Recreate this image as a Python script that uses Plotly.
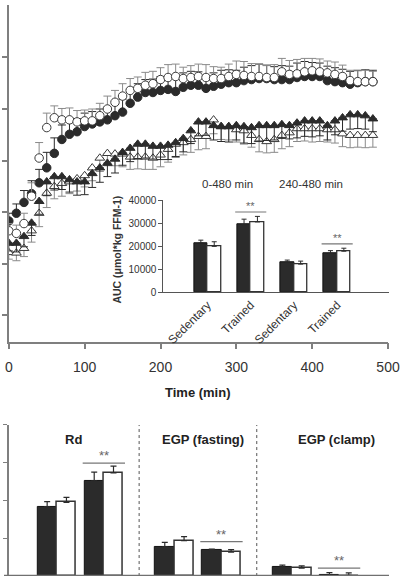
import plotly.graph_objects as go

W, H = 401, 584
FONT = "Liberation Sans, Arial, sans-serif"

# ---------------- main time course ----------------
time_min = [0, 10, 20, 30, 40, 50, 60, 70, 80, 90, 100, 110, 120, 130, 140, 150, 160,
            170, 180, 190, 200, 210, 220, 230, 240, 250, 260, 270, 280, 290, 300, 310,
            320, 330, 340, 350, 360, 370, 380, 390, 400, 410, 420, 430, 440, 450, 460,
            470, 480]

trained_filled = [28.3, 29.8, 31.9, 33.6, 35.7, 38.6, 41.4, 44.1, 45.1, 45.6, 46.6, 47.1,
                  47.5, 47.9, 48.7, 49.4, 51.1, 52.3, 53.2, 53.2, 53.6, 53.8, 53.4, 54.2,
                  54.6, 54.6, 54.0, 54.4, 54.8, 55.1, 55.1, 55.5, 55.7, 55.9, 55.9, 55.7,
                  55.7, 55.7, 56.1, 56.3, 56.3, 56.3, 55.5, 55.3, 55.1, 54.8, 55.1, 55.3,
                  55.3]
trained_filled_err = [1.5, 1.8, 2.3, 2.5, 2.6, 3.0, 3.0, 2.8, 2.6, 2.5, 2.6, 2.4, 2.5, 2.4,
                      2.6, 2.5, 2.7, 2.6, 2.5, 2.6, 2.7, 2.5, 2.6, 2.8, 2.7, 2.6, 2.5, 2.6,
                      2.7, 2.5, 2.4, 2.6, 2.7, 2.8, 2.6, 2.5, 2.7, 2.6, 2.8, 2.9, 2.7, 2.6,
                      2.8, 2.7, 2.6, 2.5, 2.4, 2.3, 2.2]

trained_open = [26.4, 25.9, 27.8, 33.1, 40.5, 46.4, 48.3, 47.9, 47.9, 47.5, 47.7, 47.7,
                48.7, 50.0, 51.3, 52.5, 53.6, 54.0, 54.6, 54.9, 55.7, 56.1, 56.3, 55.9,
                56.1, 56.3, 56.1, 55.9, 55.9, 56.3, 56.7, 56.5, 56.3, 56.3, 56.1, 56.1,
                57.2, 56.7, 56.8, 57.2, 57.4, 57.2, 57.0, 56.7, 56.3, 55.5, 55.3, 55.3,
                55.3]
trained_open_err = [1.4, 1.6, 2.0, 2.6, 3.0, 2.8, 2.3, 2.2, 2.3, 2.2, 2.1, 2.3, 2.4, 2.5,
                    2.3, 2.4, 2.3, 2.2, 2.5, 2.4, 2.3, 2.5, 2.4, 2.2, 2.3, 2.4, 2.5, 2.3,
                    2.2, 2.4, 2.6, 2.7, 2.5, 2.4, 2.3, 2.5, 2.6, 2.7, 2.8, 2.6, 2.4, 2.5,
                    2.3, 2.4, 2.2, 2.0, 2.1, 2.2, 2.0]

sed_filled = [24.0, 24.0, 25.3, 27.9, 32.1, 35.9, 36.9, 36.9, 36.3, 35.9, 35.9, 37.5, 38.6,
              39.5, 40.3, 41.6, 42.4, 43.2, 43.2, 42.8, 42.8, 43.0, 43.5, 44.3, 45.8, 47.5,
              47.5, 46.8, 46.6, 46.6, 46.8, 46.6, 46.4, 46.8, 46.8, 46.8, 47.0, 46.8, 47.3,
              47.7, 47.7, 47.7, 46.8, 47.7, 48.3, 48.9, 48.9, 48.7, 48.1]
sed_filled_err = [1.5, 1.7, 2.0, 2.4, 2.5, 2.7, 2.6, 2.5, 2.4, 2.6, 2.5, 2.7, 2.8, 2.6, 2.7,
                  2.5, 2.6, 2.8, 2.7, 2.5, 2.6, 2.8, 2.7, 2.6, 2.5, 2.7, 2.6, 2.8, 2.9, 3.0,
                  2.8, 3.2, 3.1, 3.0, 2.9, 2.8, 2.7, 2.6, 2.9, 3.0, 3.1, 2.9, 2.8, 2.7, 2.6,
                  2.8, 2.7, 2.6, 2.5]

sed_open = [22.2, 22.1, 23.0, 26.4, 29.8, 33.7, 35.0, 35.6, 35.9, 36.5, 37.1, 38.6, 40.5,
            41.4, 41.3, 41.3, 40.7, 40.7, 40.7, 40.5, 41.1, 42.2, 43.2, 43.5, 44.1, 44.7,
            44.7, 47.9, 46.6, 46.6, 46.0, 45.8, 44.9, 44.1, 43.7, 44.1, 44.9, 45.4, 46.2,
            46.2, 46.2, 46.2, 46.0, 46.0, 45.2, 44.9, 44.9, 44.9, 44.9]
sed_open_err = [1.3, 1.5, 1.6, 2.2, 2.6, 2.8, 2.4, 2.5, 2.3, 2.4, 2.2, 2.5, 2.6, 2.4, 2.3,
                2.5, 2.4, 2.3, 2.4, 2.2, 2.3, 2.5, 2.6, 2.4, 2.5, 2.6, 2.4, 2.7, 2.5, 2.6,
                2.4, 2.6, 2.3, 2.4, 2.2, 2.5, 2.6, 2.7, 2.5, 2.4, 2.6, 2.5, 2.4, 2.6, 2.5,
                2.4, 2.3, 2.4, 2.3]

x_ticks_main = [0, 100, 200, 300, 400, 500]

# ---------------- inset AUC ----------------
auc_groups = ["Sedentary", "Trained", "Sedentary", "Trained"]
auc_periods = ["0-480 min", "240-480 min"]
auc_dark = [21500, 29400, 13200, 17000]
auc_dark_err = [1200, 2400, 850, 1150]
auc_white = [20000, 30600, 12300, 17900]
auc_white_err = [2000, 2400, 1300, 1300]
auc_sig = [False, True, False, True]
auc_ticks = [0, 10000, 20000, 30000, 40000]

# ---------------- bottom Rd / EGP ----------------
panels = ["Rd", "EGP (fasting)", "EGP (clamp)"]
conditions = ["Sedentary", "Trained"]
flux_dark = [18.4, 25.2, 7.7, 6.8, 2.4, 0.2]
flux_dark_err = [1.3, 2.3, 1.2, 0.3, 0.5, 0.7]
flux_white = [19.5, 27.3, 9.35, 6.3, 2.1, 0.15]
flux_white_err = [1.3, 1.8, 1.1, 0.7, 0.6, 0.7]
flux_sig_level = [29.9, 9.1, 2.1]

DARK = "#2b2b2b"
GRAY = "#8a8a8a"
AX = "#7f7f7f"

fig = go.Figure()


def px_x(p):
    return p / W


def px_y(p):
    return 1 - p / H


zeros = [0 for _ in time_min]

# main series: open triangles, filled triangles, filled circles, open circles
fig.add_trace(go.Scatter(
    x=time_min, y=sed_open, mode="markers", xaxis="x", yaxis="y",
    marker=dict(symbol="triangle-up", size=8.5, color="white", line=dict(color="#3a3a3a", width=1)),
    error_y=dict(type="data", symmetric=False, array=zeros, arrayminus=sed_open_err,
                 color=GRAY, thickness=1, width=4)))
fig.add_trace(go.Scatter(
    x=time_min, y=sed_filled, mode="markers", xaxis="x", yaxis="y",
    marker=dict(symbol="triangle-up", size=8.5, color=DARK, line=dict(color=DARK, width=1)),
    error_y=dict(type="data", symmetric=False, array=zeros, arrayminus=sed_filled_err,
                 color=DARK, thickness=1, width=4)))
fig.add_trace(go.Scatter(
    x=time_min, y=trained_filled, mode="markers", xaxis="x", yaxis="y",
    marker=dict(symbol="circle", size=8.5, color=DARK, line=dict(color=DARK, width=1)),
    error_y=dict(type="data", symmetric=False, array=trained_filled_err, arrayminus=zeros,
                 color=DARK, thickness=1, width=4)))
fig.add_trace(go.Scatter(
    x=time_min, y=trained_open, mode="markers", xaxis="x", yaxis="y",
    marker=dict(symbol="circle", size=8.5, color="white", line=dict(color="#3a3a3a", width=1)),
    error_y=dict(type="data", symmetric=False, array=trained_open_err, arrayminus=zeros,
                 color=GRAY, thickness=1, width=4)))

# inset bars
auc_pos = list(range(len(auc_groups)))
BW_IN = 0.31
fig.add_trace(go.Bar(
    x=auc_pos, y=auc_dark, width=BW_IN, offset=-BW_IN, xaxis="x2", yaxis="y2",
    marker=dict(color=DARK, line=dict(color="#111", width=1)),
    error_y=dict(type="data", symmetric=False, array=auc_dark_err,
                 arrayminus=[0 for _ in auc_dark], color=DARK, thickness=1, width=2.5)))
fig.add_trace(go.Bar(
    x=auc_pos, y=auc_white, width=BW_IN, offset=0, xaxis="x2", yaxis="y2",
    marker=dict(color="white", line=dict(color="#333", width=1.3)),
    error_y=dict(type="data", symmetric=False, array=auc_white_err,
                 arrayminus=[0 for _ in auc_white], color=DARK, thickness=1, width=2.5)))

# bottom bars
flux_pos = []
for pi in range(len(panels)):
    for ci in range(len(conditions)):
        flux_pos.append(pi * 2.5 + ci + 1)
BW_B = 0.41
fig.add_trace(go.Bar(
    x=flux_pos, y=flux_dark, width=BW_B, offset=-BW_B, xaxis="x3", yaxis="y3",
    marker=dict(color=DARK, line=dict(color="#111", width=1)),
    error_y=dict(type="data", symmetric=False, array=flux_dark_err,
                 arrayminus=[0 for _ in flux_dark], color=DARK, thickness=1.2, width=3)))
fig.add_trace(go.Bar(
    x=flux_pos, y=flux_white, width=BW_B, offset=0, xaxis="x3", yaxis="y3",
    marker=dict(color="white", line=dict(color="#333", width=1.5)),
    error_y=dict(type="data", symmetric=False, array=flux_white_err,
                 arrayminus=[0 for _ in flux_white], color=DARK, thickness=1.2, width=3)))

shapes = []
annotations = []

# inset significance
for i, s in enumerate(auc_sig):
    if s:
        top = max(auc_dark[i] + auc_dark_err[i], auc_white[i] + auc_white_err[i]) + 1900
        shapes.append(dict(type="line", xref="x2", yref="y2", x0=i - 0.36, x1=i + 0.36,
                           y0=top, y1=top, line=dict(color="#777", width=1.2)))
        annotations.append(dict(x=i, y=top, xref="x2", yref="y2", text="**", showarrow=False,
                                xanchor="center", yanchor="bottom", yshift=-2,
                                font=dict(family=FONT, size=11, color="#666")))

# inset period labels
period_px = [233, 320]
for j, lab in enumerate(auc_periods):
    annotations.append(dict(x=px_x(period_px[j]), y=px_y(182), xref="paper", yref="paper",
                            text=lab, showarrow=False, xanchor="center", yanchor="middle",
                            font=dict(family=FONT, size=11.5, color="#333")))

annotations.append(dict(x=px_x(118), y=px_y(249), xref="paper", yref="paper",
                        text="<b>AUC (\u03bcmol*kg FFM-1)</b>", textangle=-90, showarrow=False,
                        xanchor="center", yanchor="middle",
                        font=dict(family=FONT, size=10.5, color="#333")))

annotations.append(dict(x=px_x(202), y=px_y(395), xref="paper", yref="paper",
                        text="<b>Time (min)</b>", showarrow=False, xanchor="center",
                        yanchor="middle", font=dict(family=FONT, size=13, color="#222")))

# bottom panel titles and separators
title_px = [72, 207, 346]
for pi, name in enumerate(panels):
    annotations.append(dict(x=px_x(title_px[pi]), y=px_y(443), xref="paper", yref="paper",
                            text="<b>%s</b>" % name, showarrow=False, xanchor="center",
                            yanchor="middle", font=dict(family=FONT, size=13, color="#222")))
    c = pi * 2.5 + 2
    lvl = flux_sig_level[pi]
    shapes.append(dict(type="line", xref="x3", yref="y3", x0=c - 0.45, x1=c + 0.45,
                       y0=lvl, y1=lvl, line=dict(color="#777", width=1.2)))
    annotations.append(dict(x=c, y=lvl, xref="x3", yref="y3", text="**", showarrow=False,
                            xanchor="center", yanchor="bottom", yshift=-2,
                            font=dict(family=FONT, size=13, color="#666")))
for pi in range(len(panels) - 1):
    xs = pi * 2.5 + 2.75
    shapes.append(dict(type="line", xref="x3", yref="y3", x0=xs, x1=xs, y0=0, y1=40,
                       line=dict(color="#555", width=1, dash="dot")))

# bottom thick baseline
shapes.append(dict(type="line", xref="paper", yref="y3", x0=0, x1=1, y0=0, y1=0,
                   line=dict(color="#707070", width=2.5)))

fig.update_layout(
    width=W, height=H,
    margin=dict(l=0, r=0, t=0, b=0),
    paper_bgcolor="white", plot_bgcolor="rgba(0,0,0,0)",
    showlegend=False,
    font=dict(family=FONT, color="#333"),
    shapes=shapes, annotations=annotations,
    xaxis=dict(domain=[px_x(5), px_x(400)], range=[0, 500], tickvals=x_ticks_main,
               showline=True, linecolor=AX, linewidth=1.5, ticks="outside", ticklen=6,
               tickcolor=AX, tickwidth=1.5, showgrid=False, zeroline=False,
               tickfont=dict(size=14, color="#333"), ticklabelstandoff=6,
               ticklabeloverflow="allow", anchor="y"),
    yaxis=dict(domain=[px_y(343), 1], range=[4.94, 70.15], tickvals=[10, 20, 30, 40, 50, 60],
               showline=True, linecolor=AX, linewidth=1.5, ticks="outside", ticklen=5,
               tickcolor=AX, tickwidth=1.5, showgrid=False, zeroline=False,
               showticklabels=False, anchor="x"),
    xaxis2=dict(domain=[px_x(166), 1], range=[-1.022, 4.2], tickvals=auc_pos, ticktext=auc_groups,
                tickangle=-45, ticks="", showline=True, linecolor="#555", linewidth=1,
                showgrid=False, zeroline=False, tickfont=dict(size=12, color="#333"),
                anchor="y2"),
    yaxis2=dict(domain=[px_y(293), px_y(199)], range=[0, 40000], tickvals=auc_ticks,
                tickformat="d",
                showline=True, linecolor="#555", linewidth=1, ticks="outside", ticklen=4,
                tickcolor="#555", showgrid=False, zeroline=False,
                tickfont=dict(size=10, color="#333"), anchor="x2"),
    xaxis3=dict(domain=[px_x(5), 1], range=[-0.0204, 8.061], showticklabels=False, ticks="",
                showline=False, showgrid=False, zeroline=False, anchor="y3"),
    yaxis3=dict(domain=[px_y(582), px_y(428)], range=[0, 40], tickvals=[10, 20, 30, 40],
                showline=True, linecolor=AX, linewidth=1.5, ticks="outside", ticklen=4,
                tickcolor=AX, showgrid=False, zeroline=False, showticklabels=False,
                anchor="x3"),
    bargap=0,
)

fig.write_html("out.html")
